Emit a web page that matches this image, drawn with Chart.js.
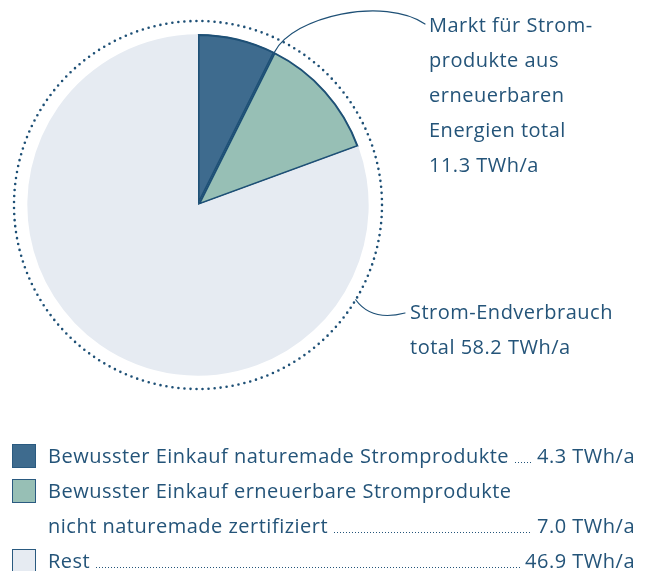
<!DOCTYPE html>
<html>
<head>
<meta charset="utf-8">
<script src="https://cdn.jsdelivr.net/npm/chart.js@4.4.1/dist/chart.umd.min.js"></script>
<style>
  html, body { margin: 0; padding: 0; background: #fff; }
  body { width: 650px; height: 571px; position: relative; overflow: hidden;
         font-family: "Open Sans", Roboto, sans-serif; color: #245479; font-size: 20px;
         letter-spacing: 0.5px; }
  #wrap { position: absolute; left: 0; top: 0; width: 650px; height: 571px; }
  .note { position: absolute; line-height: 35px; white-space: nowrap; }
  .row { position: absolute; left: 48px; width: 587px; display: flex; align-items: baseline;
         line-height: 24px; white-space: nowrap; }
  .lead { flex: 1; height: 2px; margin: 0 5px 0 6px;
          background: linear-gradient(to right, #245479 1px, transparent 1px) repeat-x left bottom;
          background-size: 3px 1px; }
  .sq { position: absolute; left: 12px; width: 22px; height: 22px; border: 1px solid #2a5a80; }
</style>
</head>
<body>
<div id="wrap"><canvas id="c"></canvas></div>

<div class="note" id="n1" style="left:429px; top:7px;"></div>
<div class="note" id="n2" style="left:410px; top:294px;"></div>

<div class="sq" style="top:444px; background:#3e6b8e;"></div>
<div class="sq" style="top:479px; background:#97bfb5;"></div>
<div class="sq" style="top:549px; background:#e6ebf2;"></div>

<div class="row" style="top:444px;"><span id="l0"></span><span class="lead"></span><span id="v0"></span></div>
<div class="row" style="top:479px;"><span id="l1a"></span></div>
<div class="row" style="top:514px;"><span id="l1b"></span><span class="lead"></span><span id="v1"></span></div>
<div class="row" style="top:549px;"><span id="l2"></span><span class="lead"></span><span id="v2"></span></div>

<script>
const categories = [
  "Bewusster Einkauf naturemade Stromprodukte",
  "Bewusster Einkauf erneuerbare Stromprodukte nicht naturemade zertifiziert",
  "Rest"
];
const values = [4.3, 7.0, 46.9];
const unit = "TWh/a";
const sliceColors = ["#3e6b8e", "#97bfb5", "#e6ebf2"];
const marketLines = ["Markt für Strom-", "produkte aus", "erneuerbaren", "Energien total"];
const totalLines = ["Strom-Endverbrauch", "total"];

const lineColor = "#1e5076";
const total = values.reduce((a, b) => a + b, 0);
const market = values[0] + values[1];

// annotation texts
document.getElementById("n1").innerHTML =
  marketLines.join("<br>") + "<br>" + market.toFixed(1) + " " + unit;
document.getElementById("n2").innerHTML =
  totalLines[0] + "<br>" + totalLines[1] + " " + total.toFixed(1) + " " + unit;

// legend texts
document.getElementById("l0").textContent = categories[0];
document.getElementById("v0").textContent = values[0].toFixed(1) + " " + unit;
document.getElementById("l1a").textContent = "Bewusster Einkauf erneuerbare Stromprodukte";
document.getElementById("l1b").textContent = "nicht naturemade zertifiziert";
document.getElementById("v1").textContent = values[1].toFixed(1) + " " + unit;
document.getElementById("l2").textContent = categories[2];
document.getElementById("v2").textContent = values[2].toFixed(1) + " " + unit;

// dotted ring + callout curves
const calloutPlugin = {
  id: "callouts",
  afterDatasetsDraw(chart) {
    const ctx = chart.ctx;
    const arcs = chart.getDatasetMeta(0).data;
    const cx = arcs[0].x, cy = arcs[0].y;
    const r = arcs[0].outerRadius;
    const ringR = r + 13;

    ctx.save();
    ctx.strokeStyle = lineColor;
    ctx.lineCap = "round";
    ctx.lineWidth = 2.6;
    ctx.setLineDash([0, 6.05]);
    ctx.beginPath();
    ctx.arc(cx, cy, ringR, 0, Math.PI * 2);
    ctx.stroke();

    ctx.setLineDash([]);
    ctx.lineWidth = 1.2;
    // market callout from the boundary between slice 0 and 1
    const a = arcs[0].endAngle;
    const x0 = cx + r * Math.cos(a), y0 = cy + r * Math.sin(a);
    ctx.beginPath();
    ctx.moveTo(x0, y0);
    ctx.bezierCurveTo(x0 + 18, y0 - 36, x0 + 110, y0 - 56, 425, 24);
    ctx.stroke();

    // total callout from the dotted ring
    const b = 31 * Math.PI / 180;
    const x1 = cx + ringR * Math.cos(b), y1 = cy + ringR * Math.sin(b);
    ctx.beginPath();
    ctx.moveTo(x1, y1);
    ctx.quadraticCurveTo(x1 + 16, y1 + 22, 405, 313);
    ctx.stroke();
    ctx.restore();
  }
};

new Chart(document.getElementById("c"), {
  type: "pie",
  data: {
    labels: categories,
    datasets: [{
      data: values,
      backgroundColor: sliceColors,
      borderColor: [lineColor, lineColor, "rgba(0,0,0,0)"],
      borderWidth: [1.6, 1.6, 0],
      borderAlign: "inner"
    }]
  },
  options: {
    responsive: true,
    maintainAspectRatio: false,
    animation: false,
    radius: 171,
    layout: { padding: { left: 0, top: 0, right: 254, bottom: 161 } },
    plugins: {
      legend: { display: false },
      tooltip: { enabled: false }
    }
  },
  plugins: [calloutPlugin]
});
</script>
</body>
</html>
